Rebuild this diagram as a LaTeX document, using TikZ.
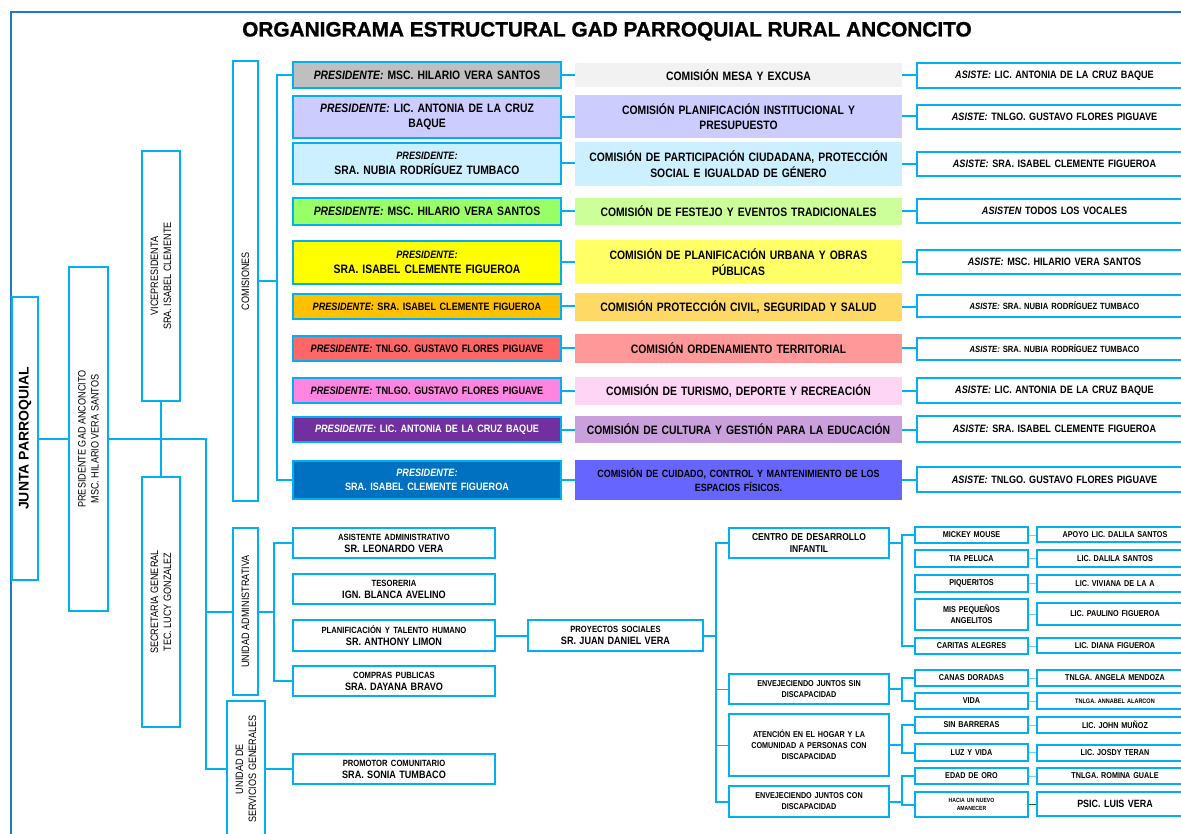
\documentclass[tikz,border=0pt]{standalone}
\usepackage{fontspec}
\setmainfont{Liberation Sans}[FakeStretch=0.85]
\newfontfamily\widefont{Liberation Sans}
\newfontfamily\titlefont{Liberation Sans}[FakeBold=1.2]
\newcommand\fs[2]{\fontsize{#1}{#2}\selectfont}
\definecolor{cy}{HTML}{00B0F0}
\definecolor{framec}{HTML}{1F7BC8}
\definecolor{aA}{HTML}{BFBFBF}\definecolor{aB}{HTML}{CCCCFF}\definecolor{aC}{HTML}{CCF0FF}
\definecolor{aD}{HTML}{99FF66}\definecolor{aE}{HTML}{FFFF00}\definecolor{aF}{HTML}{FFC000}
\definecolor{aG}{HTML}{FF6666}\definecolor{aH}{HTML}{FF85E0}\definecolor{aI}{HTML}{7030A0}
\definecolor{aJ}{HTML}{0070C0}
\definecolor{bA}{HTML}{F2F2F2}\definecolor{bB}{HTML}{CCCCFF}\definecolor{bC}{HTML}{CCF0FF}
\definecolor{bD}{HTML}{CCFF99}\definecolor{bE}{HTML}{FFFF66}\definecolor{bF}{HTML}{FFD966}
\definecolor{bG}{HTML}{FF9999}\definecolor{bH}{HTML}{FFD5F5}\definecolor{bI}{HTML}{C9A0DC}
\definecolor{bJ}{HTML}{6666FF}
\newcommand\bx[7]{%
  \pgfmathsetmacro\myW{#4-#2}%
  \pgfmathsetmacro\myH{#5-#3}%
  \pgfmathsetmacro\myT{#4-#2-6}%
  \pgfmathsetmacro\myX{(#2+#4)/2}%
  \pgfmathsetmacro\myY{(#3+#5)/2}%
  \node[#6,minimum width=\myW pt,minimum height=\myH pt,text width=\myT pt] (#1) at (\myX,\myY) {#7};}
\newcommand\PR{\textit{PRESIDENTE:}}
\newcommand\AS{\textit{ASISTE:}}
\begin{document}
\begin{tikzpicture}[x=1pt,y=-1pt,
  conn/.style={draw=cy,line width=2pt},
  thinc/.style={draw=cy,line width=1pt},
  ltc/.style={draw=cy!55,line width=1pt},
  abox/.style={draw=cy,line width=1.6pt,fill=#1,inner sep=0pt,align=center,font=\bfseries\fs{12.2}{15}},
  bbox/.style={draw=none,fill=#1,inner sep=0pt,align=center,font=\bfseries\fs{12.2}{15.5}},
  cbox/.style={draw=cy,line width=1.6pt,fill=white,inner sep=0pt,align=center,font=\bfseries\fs{10.7}{13}},
  vbox/.style={draw=cy,line width=1.6pt,fill=white,inner sep=0pt},
  vtext/.style={rotate=90,align=center,inner sep=0pt,font=\fs{10.7}{13}},
  wbox/.style={draw=cy,line width=1.6pt,fill=white,inner sep=0pt,align=center,font=\bfseries},
  sbox/.style={draw=cy,line width=1.3pt,fill=white,inner sep=0pt,align=center,font=\bfseries\fs{8.5}{11}},
]
\useasboundingbox (0,0) rectangle (1181,834);
\fill[white] (0,0) rectangle (1181,834);
% frame
\draw[framec,line width=2pt] (11,834) -- (11,12) -- (1181,12);
\node[anchor=base,inner sep=0pt,font=\titlefont\bfseries\fs{20.8}{24}] (title) at (607,36.5) {ORGANIGRAMA ESTRUCTURAL GAD PARROQUIAL RURAL ANCONCITO};

% vertical boxes
\bx{junta}{12}{297}{38}{580}{vbox}{}
\node[vtext,font=\widefont\bfseries\fs{14}{16}] (juntaT) at (junta.center) {JUNTA PARROQUIAL};
\bx{pres}{69}{267}{108}{611}{vbox}{}
\node[vtext] (presT) at (pres.center) {PRESIDENTE GAD ANCONCITO\\MSC. HILARIO VERA SANTOS};
\bx{vice}{142}{151}{180}{401}{vbox}{}
\node[vtext] (viceT) at (vice.center) {VICEPRESIDENTA\\SRA. ISABEL CLEMENTE};
\bx{sec}{142}{477}{180}{727}{vbox}{}
\node[vtext] (secT) at (sec.center) {SECRETARIA GENERAL\\TEC. LUCY GONZALEZ};
\bx{com}{233}{61}{258}{501}{vbox}{}
\node[vtext] (comT) at (com.center) {COMISIONES};
\bx{uadm}{233}{528}{258}{695}{vbox}{}
\node[vtext] (uadmT) at (uadm.center) {UNIDAD ADMINISTRATIVA};
\bx{serv}{227}{701}{265}{837}{vbox}{}
\node[vtext] (servT) at (serv.center) {UNIDAD DE\\SERVICIOS GENERALES};

% commissions: presidents
\bx{a1}{293}{62}{561}{88}{abox=aA}{\PR{} MSC. HILARIO VERA SANTOS}
\bx{a2}{293}{96}{561}{138}{abox=aB}{\PR{} LIC. ANTONIA DE LA CRUZ\\BAQUE}
\bx{a3}{293}{143}{561}{184}{abox=aC}{{\fs{10.7}{13}\PR}\\SRA. NUBIA RODRÍGUEZ TUMBACO}
\bx{a4}{293}{198}{561}{225}{abox=aD}{\PR{} MSC. HILARIO VERA SANTOS}
\bx{a5}{293}{241}{561}{284}{abox=aE}{{\fs{10.7}{13}\PR}\\SRA. ISABEL CLEMENTE FIGUEROA}
\bx{a6}{293}{294}{561}{319}{abox=aF,font=\bfseries\fs{10.7}{13}}{\PR{} SRA. ISABEL CLEMENTE FIGUEROA}
\bx{a7}{293}{336}{561}{361}{abox=aG,font=\bfseries\fs{10.8}{13}}{\PR{} TNLGO. GUSTAVO FLORES PIGUAVE}
\bx{a8}{293}{378}{561}{403}{abox=aH,font=\bfseries\fs{10.8}{13}}{\PR{} TNLGO. GUSTAVO FLORES PIGUAVE}
\bx{a9}{293}{417}{561}{442}{abox=aI,text=white,font=\bfseries\fs{10.7}{13}}{\PR{} LIC. ANTONIA DE LA CRUZ BAQUE}
\bx{a10}{293}{461}{561}{499}{abox=aJ,text=white,font=\bfseries\fs{10.7}{14}}{\PR\\SRA. ISABEL CLEMENTE FIGUEROA}

% commissions
\bx{b1}{575}{63}{902}{87}{bbox=bA}{COMISIÓN MESA Y EXCUSA}
\bx{b2}{575}{95}{902}{138}{bbox=bB}{COMISIÓN PLANIFICACIÓN INSTITUCIONAL Y\\PRESUPUESTO}
\bx{b3}{575}{142}{902}{186}{bbox=bC}{COMISIÓN DE PARTICIPACIÓN CIUDADANA, PROTECCIÓN\\SOCIAL E IGUALDAD DE GÉNERO}
\bx{b4}{575}{198}{902}{225}{bbox=bD}{COMISIÓN DE FESTEJO Y EVENTOS TRADICIONALES}
\bx{b5}{575}{240}{902}{284}{bbox=bE}{COMISIÓN DE PLANIFICACIÓN URBANA Y OBRAS\\PÚBLICAS}
\bx{b6}{575}{293}{902}{321}{bbox=bF}{COMISIÓN PROTECCIÓN CIVIL, SEGURIDAD Y SALUD}
\bx{b7}{575}{334}{902}{363}{bbox=bG}{COMISIÓN ORDENAMIENTO TERRITORIAL}
\bx{b8}{575}{377}{902}{405}{bbox=bH}{COMISIÓN DE TURISMO, DEPORTE Y RECREACIÓN}
\bx{b9}{575}{416}{902}{443}{bbox=bI}{COMISIÓN DE CULTURA Y GESTIÓN PARA LA EDUCACIÓN}
\bx{b10}{575}{460}{902}{500}{bbox=bJ,font=\bfseries\fs{10.5}{14}}{COMISIÓN DE CUIDADO, CONTROL Y MANTENIMIENTO DE LOS\\ESPACIOS FÍSICOS.}

% attendees
\bx{c1}{917}{63}{1192}{88}{cbox}{\AS{} LIC. ANTONIA DE LA CRUZ BAQUE}
\bx{c2}{917}{105}{1192}{129}{cbox}{\AS{} TNLGO. GUSTAVO FLORES PIGUAVE}
\bx{c3}{917}{152}{1192}{176}{cbox}{\AS{} SRA. ISABEL CLEMENTE FIGUEROA}
\bx{c4}{917}{199}{1192}{223}{cbox}{\textit{ASISTEN} TODOS LOS VOCALES}
\bx{c5}{917}{250}{1192}{274}{cbox}{\AS{} MSC. HILARIO VERA SANTOS}
\bx{c6}{917}{295}{1192}{317}{cbox,font=\bfseries\fs{9}{11}}{\AS{} SRA. NUBIA RODRÍGUEZ TUMBACO}
\bx{c7}{917}{338}{1192}{360}{cbox,font=\bfseries\fs{9}{11}}{\AS{} SRA. NUBIA RODRÍGUEZ TUMBACO}
\bx{c8}{917}{378}{1192}{403}{cbox}{\AS{} LIC. ANTONIA DE LA CRUZ BAQUE}
\bx{c9}{917}{416}{1192}{442}{cbox}{\AS{} SRA. ISABEL CLEMENTE FIGUEROA}
\bx{c10}{917}{467}{1192}{492}{cbox}{\AS{} TNLGO. GUSTAVO FLORES PIGUAVE}

% administrative unit
\bx{asis}{293}{528}{495}{558}{wbox}{\fs{9}{12}ASISTENTE ADMINISTRATIVO\\\fs{10.7}{12}SR. LEONARDO VERA}
\bx{teso}{293}{574}{495}{604}{wbox}{\fs{9}{12}TESORERIA\\\fs{10.7}{12}IGN. BLANCA AVELINO}
\bx{plan}{293}{620}{495}{651}{wbox}{\fs{9}{12}PLANIFICACIÓN Y TALENTO HUMANO\\\fs{10.7}{12}SR. ANTHONY LIMON}
\bx{comp}{293}{666}{495}{696}{wbox}{\fs{9}{12}COMPRAS PUBLICAS\\\fs{10.7}{12}SRA. DAYANA BRAVO}
\bx{prom}{293}{754}{495}{784}{wbox}{\fs{9}{12}PROMOTOR COMUNITARIO\\\fs{10.7}{12}SRA. SONIA TUMBACO}
\bx{proy}{528}{620}{703}{651}{wbox}{\fs{9}{12}PROYECTOS SOCIALES\\\fs{10.7}{12}SR. JUAN DANIEL VERA}

% social projects
\bx{cdi}{729}{528}{889}{558}{wbox,font=\bfseries\fs{10}{12}}{CENTRO DE DESARROLLO\\INFANTIL}
\bx{ejs}{729}{674}{889}{704}{wbox,font=\bfseries\fs{8.5}{11}}{ENVEJECIENDO JUNTOS SIN\\DISCAPACIDAD}
\bx{ate}{729}{714}{889}{776}{wbox,font=\bfseries\fs{8.5}{11}}{ATENCIÓN EN EL HOGAR Y LA\\COMUNIDAD A PERSONAS CON\\DISCAPACIDAD}
\bx{ejc}{729}{786}{889}{817}{wbox,font=\bfseries\fs{8.5}{11}}{ENVEJECIENDO JUNTOS CON\\DISCAPACIDAD}

% level 3
\bx{mm}{915}{527}{1028}{543}{sbox}{MICKEY MOUSE}
\bx{tp}{915}{550}{1028}{567}{sbox}{TIA PELUCA}
\bx{pq}{915}{575}{1028}{592}{sbox}{PIQUERITOS}
\bx{mp}{915}{599}{1028}{630}{sbox,font=\bfseries\fs{8.5}{11}}{MIS PEQUEÑOS\\ANGELITOS}
\bx{ca}{915}{638}{1028}{654}{sbox}{CARITAS ALEGRES}
\bx{cd}{915}{670}{1028}{686}{sbox}{CANAS DORADAS}
\bx{vi}{915}{693}{1028}{709}{sbox}{VIDA}
\bx{sb}{915}{717}{1028}{733}{sbox}{SIN BARRERAS}
\bx{lv}{915}{744}{1028}{761}{sbox}{LUZ Y VIDA}
\bx{eo}{915}{768}{1028}{784}{sbox}{EDAD DE ORO}
\bx{hn}{915}{792}{1028}{817}{sbox,font=\bfseries\fs{6}{8}}{HACIA UN NUEVO\\AMANECER}

% level 4
\bx{d1}{1037}{527}{1193}{542}{sbox}{APOYO LIC. DALILA SANTOS}
\bx{d2}{1037}{550}{1193}{567}{sbox}{LIC. DALILA SANTOS}
\bx{d3}{1037}{575}{1193}{592}{sbox}{LIC. VIVIANA DE LA A}
\bx{d4}{1037}{603}{1193}{625}{sbox}{LIC. PAULINO FIGUEROA}
\bx{d5}{1037}{638}{1193}{653}{sbox}{LIC. DIANA FIGUEROA}
\bx{d6}{1037}{670}{1193}{686}{sbox}{TNLGA. ANGELA MENDOZA}
\bx{d7}{1037}{693}{1193}{709}{sbox,font=\bfseries\fs{6.5}{8}}{TNLGA. ANNABEL ALARCON}
\bx{d8}{1037}{717}{1193}{733}{sbox}{LIC. JOHN MUÑOZ}
\bx{d9}{1037}{745}{1193}{761}{sbox}{LIC. JOSDY TERAN}
\bx{d10}{1037}{768}{1193}{784}{sbox}{TNLGA. ROMINA GUALE}
\bx{d11}{1037}{792}{1193}{816}{sbox,font=\bfseries\fs{10.5}{12}}{PSIC. LUIS VERA}

% ---------- connectors ----------
\coordinate (mb) at (206,0);
\coordinate (cb) at (277,0);
\coordinate (ab) at (274,0);
\coordinate (pb) at (716,0);
\coordinate (qb) at (902,0);
\draw[conn] (junta.east |- pres.center) -- (pres.west);
\draw[conn] (pres.east) -- (pres.east -| mb) -- (mb |- serv.west) -- (serv.west);
\draw[conn] (mb |- uadm.west) -- (uadm.west);
\draw[conn] (vice.south) -- (sec.north);
% commissions bus
\draw[conn] (a1.west) -- (a1.west -| cb) -- (a10.west -| cb) -- (a10.west);
\draw[conn] (com.east |- 0,281) -- (cb |- 0,281);
\foreach \i in {1,...,10}{
  \draw[conn] (a\i.east) -- (a\i.east -| b\i.west);
  \draw[conn] (b\i.east) -- (b\i.east -| c\i.west);
}
% administrative
\draw[conn] (uadm.east) -- (uadm.east -| ab);
\draw[conn] (asis.west) -- (asis.west -| ab) -- (comp.west -| ab) -- (comp.west);
\draw[conn] (serv.east |- prom.west) -- (prom.west);
\draw[conn] (plan.east) -- (proy.west);
% social projects bus
\draw[conn] (proy.east) -- (proy.east -| pb);
\draw[conn] (cdi.west) -- (cdi.west -| pb) -- (ejc.west -| pb) -- (ejc.west);
\draw[thinc] (ejs.west -| pb) -- (ejs.west);
\draw[thinc] (ate.west -| pb) -- (ate.west);
% level 3 buses
\draw[conn] (cdi.east) -- (cdi.east -| qb);
\draw[conn] (mm.west) -- (mm.west -| qb) -- (ca.west -| qb) -- (ca.west);
\draw[conn] (ejs.east) -- (ejs.east -| qb);
\draw[conn] (cd.west) -- (cd.west -| qb) -- (vi.west -| qb) -- (vi.west);
\draw[conn] (ate.east) -- (ate.east -| qb);
\draw[conn] (sb.west) -- (sb.west -| qb) -- (lv.west -| qb) -- (lv.west);
\draw[conn] (ejc.east) -- (ejc.east -| qb);
\draw[conn] (eo.west) -- (eo.west -| qb) -- (hn.west -| qb) -- (hn.west);
% level 3 -> 4
\draw[ltc] (mm.east) -- (mm.east -| d1.west);
\draw[ltc] (tp.east) -- (tp.east -| d2.west);
\draw[ltc] (pq.east) -- (pq.east -| d3.west);
\draw[ltc] (mp.east) -- (mp.east -| d4.west);
\draw[ltc] (ca.east) -- (ca.east -| d5.west);
\draw[ltc] (cd.east) -- (cd.east -| d6.west);
\draw[ltc] (vi.east) -- (vi.east -| d7.west);
\draw[ltc] (sb.east) -- (sb.east -| d8.west);
\draw[ltc] (lv.east) -- (lv.east -| d9.west);
\draw[ltc] (eo.east) -- (eo.east -| d10.west);
\draw[draw=green!50!black,line width=0.8pt] (hn.east) -- (hn.east -| d11.west);
\end{tikzpicture}
\end{document}
